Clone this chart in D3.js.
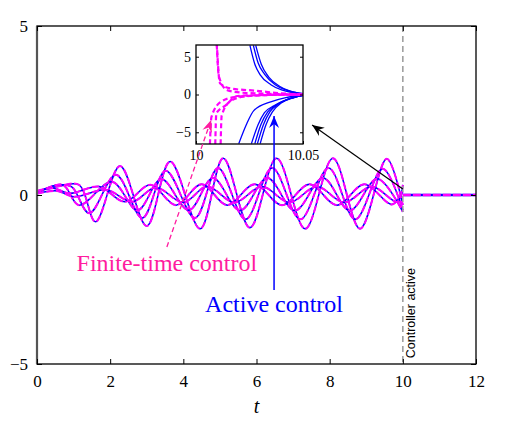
<!DOCTYPE html>
<html>
<head>
<meta charset="utf-8">
<title>controlled trajectories</title>
<script src="https://cdn.jsdelivr.net/npm/d3@7"></script>
<style>
    body { margin: 0; background: #fff; }
    text { font-family: "Liberation Serif", "DejaVu Serif", serif; }
    .sans { font-family: "Liberation Sans", Arial, sans-serif; }
</style>
</head>
<body>
<svg id="chart" width="519" height="421"></svg>
<script>
    // ticks
    const xTicks = [0, 2, 4, 6, 8, 10, 12];
    const yTicks = [-5, 0, 5];
    const insetXTicks = [10, 10.05];
    const insetYTicks = [-5, 0, 5];

    // trajectories before the controller switches on, [t, value]
    const trajA = [[0, 0.1], [0.6, 0.26], [1.15, 0.3], [1.6, -0.79], [2.27, 0.86], [3.0, -0.92], [3.64, 0.99],
        [4.46, -1.0], [5.09, 1.09], [5.82, -0.97], [6.55, 1.09], [7.33, -1.0], [8.09, 1.09], [8.83, -1.0],
        [9.56, 1.07], [10, -0.3]];
    const trajB = [[0, 0.08], [0.6, 0.3], [0.95, 0.24], [1.43, -0.54], [2.16, 0.6], [2.88, -0.68], [3.52, 0.72],
        [4.32, -0.68], [4.95, 0.8], [5.7, -0.72], [6.43, 0.8], [7.2, -0.72], [7.97, 0.8], [8.7, -0.72],
        [9.45, 0.78], [10, -0.45]];
    const trajC = [[0, 0.06], [0.7, 0.3], [1.15, -0.3], [2.05, 0.39], [2.75, -0.45], [3.4, 0.47], [4.15, -0.45],
        [4.81, 0.5], [5.55, -0.46], [6.3, 0.5], [7.05, -0.46], [7.82, 0.5], [8.55, -0.46], [9.3, 0.48],
        [10, -0.5]];
    const trajD = [[0, 0.12], [0.45, 0.2], [0.9, 0.05], [1.7, 0.25], [2.4, -0.2], [3.1, 0.3], [3.8, -0.3],
        [4.5, 0.32], [5.2, -0.3], [5.95, 0.32], [6.7, -0.3], [7.45, 0.32], [8.2, -0.3], [8.95, 0.32],
        [9.7, -0.28], [10, 0.1]];
    const trajE = [[0, 0.04], [0.55, 0.12], [1.0, -0.05], [1.9, 0.15], [2.6, -0.2], [3.25, 0.22], [4.0, -0.22],
        [4.65, 0.25], [5.4, -0.22], [6.15, 0.25], [6.9, -0.22], [7.65, 0.25], [8.4, -0.22], [9.15, 0.25],
        [9.85, -0.2], [10, 0.3]];
    const trajectories = [trajA, trajB, trajC, trajD, trajE];
    const restState = [[10, 0], [12, 0]];

    // inset: first 0.05 time units after t = 10
    const activeUp1 = [[10.0252, 6.5], [10.0275, 4.0], [10.03, 2.6], [10.035, 1.3], [10.04, 0.6], [10.045, 0.25], [10.05, 0.06]];
    const activeUp2 = [[10.0268, 6.5], [10.029, 4.2], [10.032, 2.7], [10.037, 1.3], [10.042, 0.6], [10.05, 0.1]];
    const activeUp3 = [[10.0279, 6.5], [10.0305, 4.0], [10.034, 2.3], [10.039, 1.1], [10.044, 0.45], [10.05, 0.12]];
    const activeDn1 = [[10.020, -6.5], [10.0235, -4.0], [10.0271, -2.1], [10.0349, -0.97], [10.042, -0.4], [10.05, -0.1]];
    const activeDn2 = [[10.0259, -6.5], [10.029, -4.0], [10.032, -2.4], [10.0364, -1.5], [10.043, -0.6], [10.05, -0.15]];
    const activeDn3 = [[10.0275, -6.5], [10.0303, -4.0], [10.0335, -2.3], [10.038, -1.3], [10.044, -0.5], [10.05, -0.12]];
    const activeDn4 = [[10.0287, -6.5], [10.0315, -4.0], [10.0345, -2.3], [10.039, -1.2], [10.045, -0.45], [10.05, -0.1]];
    const activeDn5 = [[10.030, -6.5], [10.0327, -4.0], [10.0357, -2.3], [10.04, -1.1], [10.046, -0.4], [10.05, -0.08]];
    const finiteUp1 = [[10.0097, 6.6], [10.0107, 2.36], [10.0146, 0.57], [10.022, 0.23], [10.03, 0.13], [10.04, 0.05], [10.05, 0]];
    const finiteUp2 = [[10.0095, 8.0], [10.0112, 1.5], [10.016, 0.8], [10.028, 0.5], [10.04, 0.15], [10.05, 0]];
    const finiteDn1 = [[10.009, -6.6], [10.0095, -2.5], [10.0139, -1.43], [10.0193, -0.2], [10.03, -0.08], [10.05, 0]];
    const finiteDn2 = [[10.0065, -6.6], [10.0072, -3.0], [10.0115, -1.0], [10.018, -0.35], [10.03, -0.1], [10.05, 0]];
    const finiteDn3 = [[10.0115, -6.6], [10.012, -2.8], [10.016, -0.9], [10.022, -0.3], [10.035, -0.05], [10.05, 0]];
    const insetActive = [activeUp1, activeUp2, activeUp3, activeDn1, activeDn2, activeDn3, activeDn4, activeDn5];
    const insetFinite = [finiteUp1, finiteUp2, finiteDn1, finiteDn2, finiteDn3];

    const blue = "#0000ff";
    const magenta = "#ff00ff";
    const pink = "#ff1ca0";

    const svg = d3.select("#chart");
    const margin = {left: 37, top: 26, right: 43, bottom: 57};
    const width = 519 - margin.left - margin.right;
    const height = 421 - margin.top - margin.bottom;

    const x = d3.scaleLinear().domain([0, 12]).range([margin.left, margin.left + width]);
    const y = d3.scaleLinear().domain([-5, 5]).range([margin.top + height, margin.top]);

    const line = d3.line()
        .x(d => x(d[0]))
        .y(d => y(d[1]))
        .curve(d3.curveCatmullRom.alpha(0.5));

    // arrow heads
    const defs = svg.append("defs");
    function arrowHead(id, colour) {
        defs.append("marker")
            .attr("id", id)
            .attr("viewBox", "-12 -6 14 12")
            .attr("refX", 0)
            .attr("refY", 0)
            .attr("markerWidth", 14)
            .attr("markerHeight", 12)
            .attr("markerUnits", "userSpaceOnUse")
            .attr("orient", "auto")
            .append("path")
            .attr("d", "M0,0 L-12,-5 L-8,0 L-12,5 Z")
            .attr("fill", colour);
    }
    arrowHead("head-blue", blue);
    arrowHead("head-pink", pink);
    arrowHead("head-black", "#000");

    // trajectories
    const plot = svg.append("g");
    trajectories.forEach(tr => {
        plot.append("path")
            .attr("d", line(tr))
            .attr("fill", "none")
            .attr("stroke", blue)
            .attr("stroke-width", 1.5);
        plot.append("path")
            .attr("d", line(tr))
            .attr("fill", "none")
            .attr("stroke", magenta)
            .attr("stroke-width", 2)
            .attr("stroke-dasharray", "7,2.5");
    });
    plot.append("path")
        .attr("d", line(restState))
        .attr("stroke", blue)
        .attr("stroke-width", 2.5);
    plot.append("path")
        .attr("d", line(restState))
        .attr("stroke", magenta)
        .attr("stroke-width", 2.5)
        .attr("stroke-dasharray", "8,2");

    // controller switch
    svg.append("line")
        .attr("x1", x(10)).attr("x2", x(10))
        .attr("y1", y(5)).attr("y2", y(-5))
        .attr("stroke", "#999")
        .attr("stroke-width", 1.5)
        .attr("stroke-dasharray", "6,4");
    svg.append("text")
        .attr("class", "sans")
        .attr("transform", `translate(${x(10.33)},${y(-4.83)}) rotate(-90)`)
        .attr("font-size", 12.5)
        .text("Controller active");

    // frame and ticks
    svg.append("rect")
        .attr("x", margin.left).attr("y", margin.top)
        .attr("width", width).attr("height", height)
        .attr("fill", "none")
        .attr("stroke", "#000")
        .attr("stroke-width", 1.3);
    svg.append("line")
        .attr("x1", margin.left).attr("x2", margin.left)
        .attr("y1", margin.top).attr("y2", margin.top + height)
        .attr("stroke", "#555")
        .attr("stroke-width", 2.2);

    svg.append("g")
        .attr("transform", `translate(0,${margin.top + height})`)
        .call(d3.axisBottom(x).tickValues(xTicks).tickSize(-5).tickPadding(11))
        .call(g => g.select(".domain").remove());
    svg.append("g")
        .attr("transform", `translate(0,${margin.top})`)
        .call(d3.axisTop(x).tickValues(xTicks).tickSize(-5).tickFormat(""))
        .call(g => g.select(".domain").remove());
    svg.append("g")
        .attr("transform", `translate(${margin.left},0)`)
        .call(d3.axisLeft(y).tickValues(yTicks).tickSize(-5).tickPadding(9).tickFormat(d3.format("d")))
        .call(g => g.select(".domain").remove());
    svg.append("g")
        .attr("transform", `translate(${margin.left + width},0)`)
        .call(d3.axisRight(y).tickValues(yTicks).tickSize(-5).tickFormat(""))
        .call(g => g.select(".domain").remove());
    svg.selectAll(".tick text")
        .attr("font-family", "'Liberation Serif', serif")
        .attr("font-size", 17)
        .attr("fill", "#000");
    svg.selectAll(".tick line").attr("stroke", "#000");

    svg.append("text")
        .attr("x", x(6))
        .attr("y", 413)
        .attr("text-anchor", "middle")
        .attr("font-size", 20)
        .attr("font-style", "italic")
        .text("t");

    // inset
    const box = {left: 196, top: 45, right: 303, bottom: 144};
    const ix = d3.scaleLinear().domain([10, 10.05]).range([box.left, box.right]);
    const iy = d3.scaleLinear().domain([-6.55, 6.55]).range([box.bottom, box.top]);
    const iline = d3.line()
        .x(d => ix(d[0]))
        .y(d => iy(d[1]))
        .curve(d3.curveMonotoneX);

    const inset = svg.append("g");
    inset.append("rect")
        .attr("x", box.left).attr("y", box.top)
        .attr("width", box.right - box.left).attr("height", box.bottom - box.top)
        .attr("fill", "#fff");
    defs.append("clipPath").attr("id", "inset-clip")
        .append("rect")
        .attr("x", box.left).attr("y", box.top)
        .attr("width", box.right - box.left).attr("height", box.bottom - box.top);
    const curves = inset.append("g").attr("clip-path", "url(#inset-clip)");
    insetActive.forEach(c => {
        curves.append("path")
            .attr("d", iline(c))
            .attr("fill", "none")
            .attr("stroke", blue)
            .attr("stroke-width", 1.3);
    });
    insetFinite.forEach(c => {
        curves.append("path")
            .attr("d", iline(c))
            .attr("fill", "none")
            .attr("stroke", magenta)
            .attr("stroke-width", 2.2)
            .attr("stroke-dasharray", "5,3");
    });
    inset.append("rect")
        .attr("x", box.left).attr("y", box.top)
        .attr("width", box.right - box.left).attr("height", box.bottom - box.top)
        .attr("fill", "none")
        .attr("stroke", "#000")
        .attr("stroke-width", 1.3);

    const insetAxes = svg.append("g").attr("class", "inset-axes");
    insetAxes.append("g")
        .attr("transform", `translate(0,${box.bottom})`)
        .call(d3.axisBottom(ix).tickValues(insetXTicks).tickSize(-3).tickPadding(6).tickFormat(d => d === 10 ? "10" : "10.05"))
        .call(g => g.select(".domain").remove());
    insetAxes.append("g")
        .attr("transform", `translate(${box.left},0)`)
        .call(d3.axisLeft(iy).tickValues(insetYTicks).tickSize(-3).tickPadding(5).tickFormat(d3.format("d")))
        .call(g => g.select(".domain").remove());
    insetAxes.append("g")
        .attr("transform", `translate(${box.right},0)`)
        .call(d3.axisRight(iy).tickValues(insetYTicks).tickSize(-3).tickFormat(""))
        .call(g => g.select(".domain").remove());
    insetAxes.selectAll(".tick text")
        .attr("font-family", "'Liberation Serif', serif")
        .attr("font-size", 14)
        .attr("fill", "#000");
    insetAxes.selectAll(".tick line").attr("stroke", "#000");

    // annotations (in main data units)
    svg.append("line")
        .attr("x1", x(6.48)).attr("y1", y(-2.81))
        .attr("x2", x(6.48)).attr("y2", y(2.34))
        .attr("stroke", blue)
        .attr("stroke-width", 1.5)
        .attr("marker-end", "url(#head-blue)");
    svg.append("text")
        .attr("x", x(6.48)).attr("y", y(-3.45))
        .attr("text-anchor", "middle")
        .attr("font-size", 24)
        .attr("fill", blue)
        .text("Active control");

    svg.append("line")
        .attr("x1", x(3.55)).attr("y1", y(-1.54))
        .attr("x2", x(4.76)).attr("y2", y(2.22))
        .attr("stroke", pink)
        .attr("stroke-width", 1.3)
        .attr("stroke-dasharray", "5,3")
        .attr("marker-end", "url(#head-pink)");
    svg.append("text")
        .attr("x", x(3.55)).attr("y", y(-2.24))
        .attr("text-anchor", "middle")
        .attr("font-size", 24)
        .attr("fill", pink)
        .text("Finite-time control");

    svg.append("line")
        .attr("x1", x(10)).attr("y1", y(0.18))
        .attr("x2", x(7.52)).attr("y2", y(2.07))
        .attr("stroke", "#000")
        .attr("stroke-width", 1.2)
        .attr("marker-end", "url(#head-black)");
</script>
</body>
</html>
